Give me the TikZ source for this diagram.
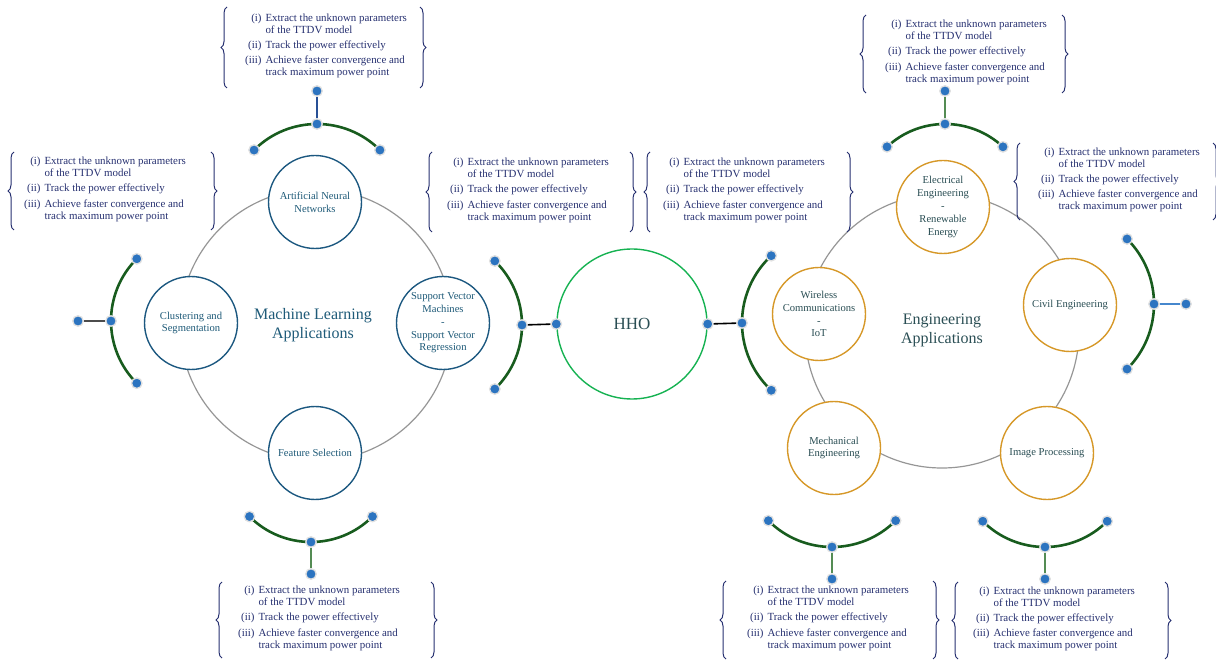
\documentclass[tikz,border=0pt]{standalone}
\usepackage{fontspec}
\setmainfont{Liberation Serif}
\usetikzlibrary{calc,decorations.pathreplacing}

\definecolor{mlblue}{RGB}{28,88,128}
\definecolor{mltext}{RGB}{30,90,120}
\definecolor{engor}{RGB}{214,152,40}
\definecolor{engtext}{RGB}{42,78,84}
\definecolor{navy}{RGB}{38,48,112}
\definecolor{arcgreen}{RGB}{24,92,30}
\definecolor{dotblue}{RGB}{44,116,192}
\definecolor{hhogreen}{RGB}{22,178,82}
\definecolor{stemgreen}{RGB}{84,140,84}
\definecolor{stemblue}{RGB}{40,80,150}
\definecolor{stemlight}{RGB}{70,135,205}
\definecolor{ringgray}{RGB}{150,150,150}

\tikzset{
 ring/.style={draw=ringgray, line width=1.2pt},
 satbase/.style={circle, line width=1.4pt, fill=white, minimum size=93pt, inner sep=0pt, align=center, font=\fontsize{10.6}{12.8}\selectfont},
 mlsat/.style={satbase, draw=mlblue, text=mltext},
 engsat/.style={satbase, draw=engor, text=engtext},
 hhostyle/.style={circle, draw=hhogreen, line width=1.4pt, minimum size=150pt, inner sep=0pt, text=engtext, font=\fontsize{17}{20}\selectfont},
 arcline/.style={draw=arcgreen, line width=2.6pt},
 dot/.style={circle, fill=dotblue, draw=black!12, line width=1.3pt, minimum size=10.5pt, inner sep=0pt},
 stem/.style={line width=1.6pt},
 listtext/.style={text=navy, inner sep=0pt, font=\fontsize{10.9}{12.2}\selectfont},
 brc/.style={decorate, decoration={brace, amplitude=6pt}, draw=navy, line width=1pt},
 titlestyle/.style={align=center, font=\fontsize{16}{19}\selectfont}
}

\newcommand\lst{\begin{tabular}{@{}r@{\hspace{4pt}}l@{}}(i)&Extract the unknown parameters\\&of the TTDV model\\[3pt](ii)&Track the power effectively\\[3pt](iii)&Achieve faster convergence and\\&track maximum power point\end{tabular}}

% #1 name, #2 left brace x, #3 right brace x, #4 top y, #5 bottom y, #6 text left x
\newcommand\infobox[6]{%
 \coordinate (#1tl) at (#2,#4); \coordinate (#1bl) at (#2,#5);
 \coordinate (#1tr) at (#3,#4); \coordinate (#1br) at (#3,#5);
 \node[listtext, anchor=west] (#1) at (#6,{(#4+#5)/2-1.5}) {\lst};
 \draw[brc] (#1bl) -- (#1tl);
 \draw[brc] (#1tr) -- (#1br);
}

% #1 name, #2 center, #3 radius, #4 start angle, #5 end angle
\newcommand\arcgrp[5]{%
 \coordinate (#1c) at (#2);
 \draw[arcline] ($(#1c)+(#4:#3)$) arc[start angle=#4, end angle=#5, radius=#3];
 \node[dot] (#1a) at ($(#1c)+(#4:#3)$) {};
 \node[dot] (#1b) at ($(#1c)+(#5:#3)$) {};
 \node[dot] (#1m) at ($(#1c)+({(#4+#5)/2}:#3)$) {};
}

\begin{document}
\begin{tikzpicture}[x=1pt,y=-1pt]
\useasboundingbox (0,0) rectangle (1216,660);

% rings
\draw[ring] (316,325) circle[radius=136];
\draw[ring] (942,331) circle[radius=137];

% ML satellites
\node[mlsat] (ann) at (315,202) {Artificial Neural\\Networks};
\node[mlsat] (clust) at (191,323) {Clustering and\\Segmentation};
\node[mlsat] (svm) at (443,323) {Support Vector\\Machines\\-\\Support Vector\\Regression};
\node[mlsat] (fs) at (315,453) {Feature Selection};
\node[titlestyle, text=mltext] (mltitle) at (313,325) {Machine Learning\\Applications};

% Engineering satellites
\node[engsat] (elec) at (943,207) {Electrical\\Engineering\\-\\Renewable\\Energy};
\node[engsat] (wir) at (819,314) {Wireless\\Communications\\-\\IoT};
\node[engsat] (civ) at (1070,305) {Civil Engineering};
\node[engsat] (mech) at (834,448) {Mechanical\\Engineering};
\node[engsat] (img) at (1047,453) {Image Processing};
\node[titlestyle, text=engtext] (engtitle) at (942,330) {Engineering\\Applications};

% HHO
\node[hhostyle] (hho) at (632,324) {HHO};
\node[dot] (hhoL) at (hho.west) {};
\node[dot] (hhoR) at (hho.east) {};

% arcs
\arcgrp{annarc}{317,213}{89}{225}{315}
\arcgrp{clarc}{199,321}{88}{135}{225}
\arcgrp{svarc}{433,325}{89}{-46}{46}
\arcgrp{fsarc}{311,455}{87}{45}{135}
\arcgrp{elarc}{945,209}{85}{227}{313}
\arcgrp{wiarc}{834,323}{92}{133}{227}
\arcgrp{ciarc}{1062,304}{92}{-45}{45}
\arcgrp{mearc}{832,457}{90}{45}{135}
\arcgrp{imarc}{1045,459}{88}{45}{135}

% stem end dots
\node[dot] (anns) at (317,91) {};
\node[dot] (cls) at (78,321) {};
\node[dot] (fss) at (311,574) {};
\node[dot] (els) at (945,91) {};
\node[dot] (cis) at (1186,304) {};
\node[dot] (mes) at (832,579) {};
\node[dot] (ims) at (1045,579) {};

% stems
\draw[stem, stemblue] (annarcm) -- (anns);
\draw[stem, black!70] (clarcm) -- (cls);
\draw[stem, black] (svarcm) -- (hhoL);
\draw[stem, stemgreen] (fsarcm) -- (fss);
\draw[stem, stemgreen] (elarcm) -- (els);
\draw[stem, black] (wiarcm) -- (hhoR);
\draw[stem, stemlight] (ciarcm) -- (cis);
\draw[stem, stemgreen] (mearcm) -- (mes);
\draw[stem, stemgreen] (imarcm) -- (ims);

% info boxes
\infobox{bann}{227}{420}{7}{88}{245}
\infobox{bcl}{14}{211}{152}{230}{24}
\infobox{bsv}{432}{630}{152}{232}{447}
\infobox{bhh}{650}{847}{152}{232}{663}
\infobox{bel}{866}{1062}{15}{93}{885}
\infobox{bci}{1020}{1213}{143}{220}{1038}
\infobox{bfs}{222}{431}{582}{658}{238}
\infobox{bme}{726}{933}{581}{659}{747}
\infobox{bim}{958}{1165}{582}{659}{973}
\end{tikzpicture}
\end{document}
